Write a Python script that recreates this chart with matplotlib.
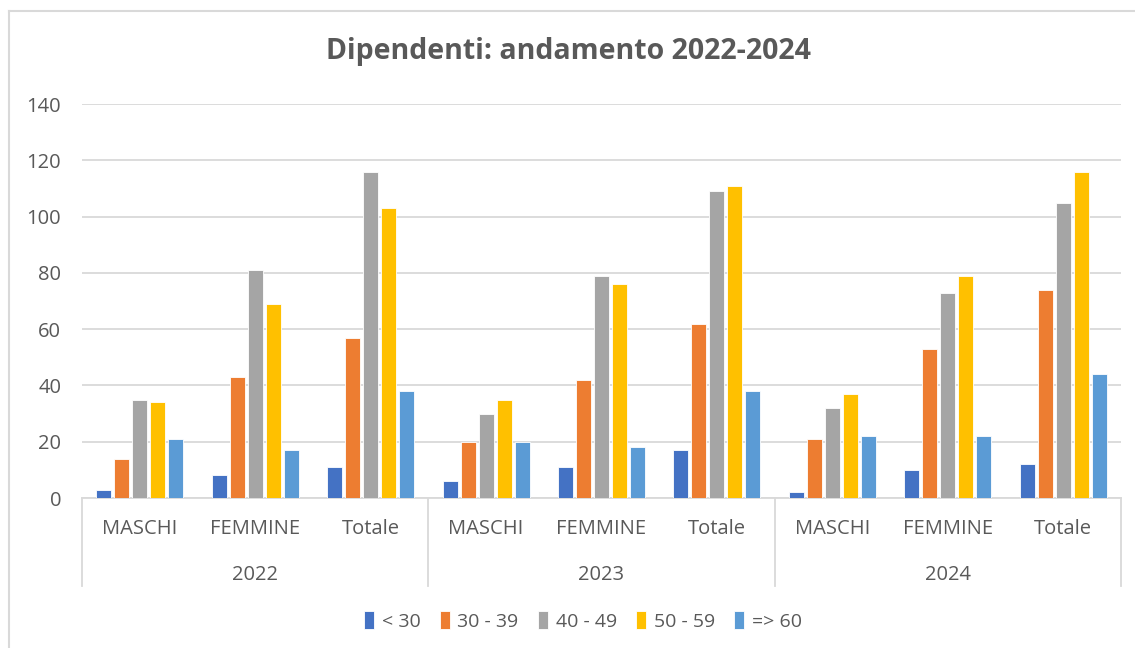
import matplotlib
matplotlib.use("Agg")
import matplotlib.pyplot as plt
from matplotlib.lines import Line2D
import numpy as np

plt.rcParams['font.family'] = ['Open Sans', 'DejaVu Sans']

# data
years = ['2022', '2023', '2024']
groups = ['MASCHI', 'FEMMINE', 'Totale']
age_bands = ['< 30', '30 - 39', '40 - 49', '50 - 59', '=> 60']
under30 = [3, 8, 11, 6, 11, 17, 2, 10, 12]
age30_39 = [14, 43, 57, 20, 42, 62, 21, 53, 74]
age40_49 = [35, 81, 116, 30, 79, 109, 32, 73, 105]
age50_59 = [34, 69, 103, 35, 76, 111, 37, 79, 116]
over60 = [21, 17, 38, 20, 18, 38, 22, 22, 44]
colors = ['#4472C4', '#ED7D31', '#A5A5A5', '#FFC000', '#5B9BD5']

series = [under30, age30_39, age40_49, age50_59, over60]
W, H = 1135, 648
fig = plt.figure(figsize=(W / 100, H / 100), dpi=100)
ax = fig.add_axes([82 / W, 1 - 498 / H, (1121 - 82) / W, (498 - 104) / H])

x = np.arange(len(under30))
step = 0.156
width = 0.13
for i, (vals, col, lab) in enumerate(zip(series, colors, age_bands)):
    ax.bar(x + (i - 2) * step, vals, width, color=col, label=lab,
           edgecolor='white', linewidth=0.6, zorder=3)

ax.set_xlim(-0.5, len(x) - 0.5)
ax.set_ylim(0, 140)
ax.set_yticks(range(0, 141, 20))
ax.yaxis.grid(True, color='#d9d9d9', linewidth=1.3, zorder=0)
ax.tick_params(axis='y', length=0, pad=15, labelsize=14.5, labelcolor='#595959')
ax.set_xticks([])
for s in ['top', 'right', 'left']:
    ax.spines[s].set_visible(False)
ax.spines['bottom'].set_color('#d9d9d9')
ax.spines['bottom'].set_linewidth(1.3)

# two-level category axis
trans = ax.get_xaxis_transform()
for k in range(len(x)):
    ax.text(x[k], -0.079, groups[k % 3], transform=trans, ha='center', va='center',
            fontsize=14.5, color='#595959')
for j, yr in enumerate(years):
    ax.text(j * 3 + 1, -0.195, yr, transform=trans, ha='center', va='center',
            fontsize=14.5, color='#595959')
for b in [-0.5, 2.5, 5.5, 8.5]:
    ax.add_line(Line2D([b, b], [0, -0.223], transform=trans, color='#d9d9d9',
                       linewidth=1.3, clip_on=False))

fig.text(568 / W, 1 - 52 / H, 'Dipendenti: andamento 2022-2024', ha='center', va='center',
         fontsize=20.5, fontweight='bold', color='#595959')

fig.legend(loc='center', bbox_to_anchor=(583 / W, 1 - 621 / H), ncol=5, frameon=False,
           fontsize=14, handlelength=0.5, handleheight=1.0, handletextpad=0.4,
           columnspacing=1.0, labelcolor='#595959')

# chart border
fig.add_artist(Line2D([9 / W, 9 / W], [0, 1 - 11 / H], transform=fig.transFigure,
                      color='#d9d9d9', linewidth=1.5))
fig.add_artist(Line2D([9 / W, 1], [1 - 11 / H, 1 - 11 / H], transform=fig.transFigure,
                      color='#d9d9d9', linewidth=1.5))

fig.savefig('out.png', dpi=100)
